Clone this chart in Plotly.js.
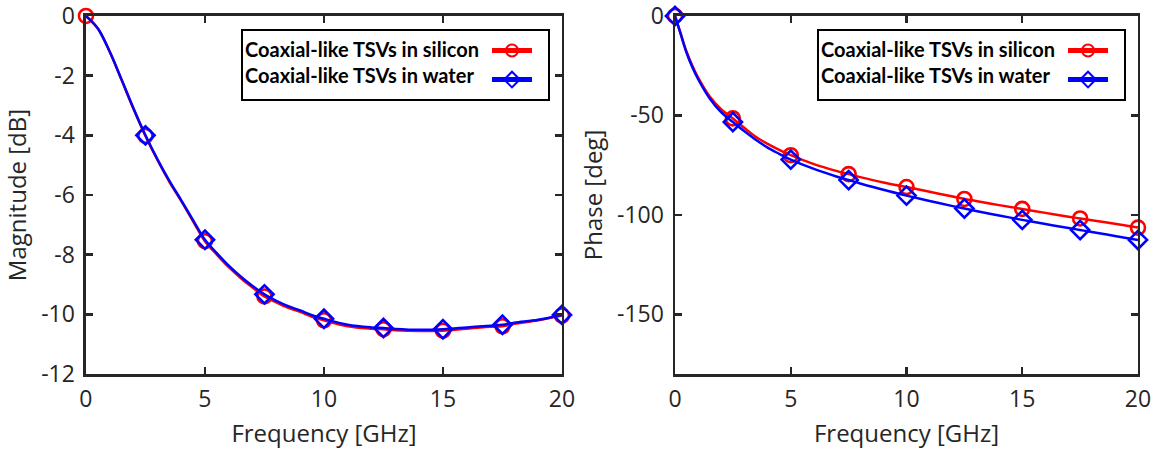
<!DOCTYPE html>
<html><head><meta charset="utf-8">
<script src="https://cdn.plot.ly/plotly-3.0.1.min.js"></script>
<style>html,body{margin:0;padding:0;background:#fff}#chart{width:1163px;height:454px}</style>
</head><body><div id="chart"></div>
<script>
// ---- data ----
const seriesNames = ['Coaxial-like TSVs in silicon', 'Coaxial-like TSVs in water'];
const markerFreqs = [0, 2.5, 5, 7.5, 10, 12.5, 15, 17.5, 20];
const waterMagMarkerFreqs = [2.5, 5, 7.5, 10, 12.5, 15, 17.5, 20];

const freqMag = [0, 0.5, 1, 1.5, 2, 2.5, 3, 3.5, 4, 4.5, 5, 5.5, 6, 6.5, 7, 7.5, 8, 8.5, 9, 9.5, 10, 11, 12, 12.5, 13, 14, 15, 16, 17, 17.5, 18, 19, 20];
const magSilicon = [0, -0.42, -1.2, -2.15, -3.12, -4.02, -4.82, -5.55, -6.2, -6.88, -7.55, -8.0, -8.42, -8.78, -9.1, -9.4, -9.6, -9.78, -9.92, -10.08, -10.2, -10.4, -10.48, -10.5, -10.53, -10.56, -10.55, -10.48, -10.42, -10.4, -10.32, -10.2, -10.04];
const magWater   = [0, -0.42, -1.2, -2.14, -3.1, -4.0, -4.8, -5.52, -6.17, -6.84, -7.5, -7.95, -8.37, -8.73, -9.05, -9.33, -9.55, -9.73, -9.87, -10.03, -10.15, -10.35, -10.44, -10.46, -10.49, -10.52, -10.5, -10.44, -10.38, -10.35, -10.28, -10.18, -10.02];

const freqPhase = [0, 0.25, 0.5, 0.75, 1, 1.5, 2, 2.5, 3, 3.5, 4, 4.5, 5, 6, 7, 7.5, 8, 9, 10, 11, 12, 12.5, 13, 14, 15, 16, 17, 17.5, 18, 19, 20];
const phaseSilicon = [0, -9, -18, -25, -31, -40.5, -47, -51.5, -56.3, -60.8, -64.3, -67.3, -70, -74.5, -78, -79.5, -81, -83.7, -86, -88.4, -90.8, -92, -93, -95.1, -97, -99, -100.9, -101.8, -102.7, -104.5, -106.4];
const phaseWater   = [0, -9.3, -18.5, -25.8, -31.8, -41.5, -48.5, -53.3, -58, -62.3, -66.2, -69.3, -72.2, -76.9, -80.8, -82.5, -84.2, -87.4, -90.3, -93, -95.6, -96.8, -98, -100.3, -102.5, -104.6, -106.6, -107.6, -108.6, -110.6, -112.6];

const xTickVals = [0, 5, 10, 15, 20];
const xTickText = ['0', '5', '10', '15', '20'];
const magTickVals = [0, -2, -4, -6, -8, -10, -12];
const magTickText = ['0', '-2', '-4', '-6', '-8', '-10', '-12'];
const phaseTickVals = [0, -50, -100, -150];
const phaseTickText = ['0', '-50', '-100', '-150'];

// ---- styling ----
const RED = '#FF0000', BLUE = '#0000FF', INK = '#262626';
const MS = 14;
const sizes = (xs, marks) => xs.map(f => marks.includes(f) ? MS : 0);

function series(x, y, color, symbol, marks, xa, ya, legend) {
  return {
    type: 'scatter', mode: 'lines+markers', x: x, y: y, name: ' ',
    xaxis: xa, yaxis: ya, legend: legend, cliponaxis: false,
    line: {color: color, width: 2.5, shape: 'spline', smoothing: 1},
    marker: {symbol: symbol, size: sizes(x, marks), opacity: 1, color: color, line: {color: color, width: 2.6}},
    hoverinfo: 'skip'
  };
}

const data = [
  series(freqMag, magSilicon, RED, 'circle-open', markerFreqs, 'x', 'y', 'legend'),
  series(freqMag, magWater, BLUE, 'diamond-open', waterMagMarkerFreqs, 'x', 'y', 'legend'),
  series(freqPhase, phaseSilicon, RED, 'circle-open', markerFreqs, 'x2', 'y2', 'legend2'),
  series(freqPhase, phaseWater, BLUE, 'diamond-open', markerFreqs, 'x2', 'y2', 'legend2')
];

const FONT = 'Open Sans, Liberation Sans, sans-serif';
const tickFont = {family: FONT, size: 23, color: INK};
const titleFont = {family: FONT, size: 24, color: INK};

function xAxis(domain, anchor) {
  return {
    domain: domain, anchor: anchor, range: [0, 20], tickvals: xTickVals, ticktext: xTickText,
    ticks: 'inside', ticklen: 7, tickwidth: 2.5, tickcolor: INK,
    showline: true, linecolor: INK, linewidth: 2.5, mirror: 'ticks',
    showgrid: false, zeroline: false, tickfont: tickFont, ticklabelstandoff: 3,
    ticklabeloverflow: 'allow',
    title: {text: 'Frequency [GHz]', font: titleFont, standoff: 12}
  };
}
function yAxis(domain, anchor, range, tv, tt, title) {
  return {
    domain: domain, anchor: anchor, range: range, tickvals: tv, ticktext: tt,
    ticks: 'inside', ticklen: 7, tickwidth: 2.5, tickcolor: INK,
    showline: true, linecolor: INK, linewidth: 2.5, mirror: 'ticks',
    showgrid: false, zeroline: false, tickfont: tickFont, ticklabelstandoff: 4,
    ticklabeloverflow: 'allow',
    title: {text: title, font: titleFont, standoff: 8}
  };
}

const legendTitle = seriesNames[0] + '<br>' + seriesNames[1];
function legendCfg(xRight) {
  return {
    x: xRight, xanchor: 'right', y: 0.936, yanchor: 'top',
    bgcolor: '#FFFFFF', bordercolor: '#000000', borderwidth: 2,
    font: {size: 20, color: '#000'}, itemsizing: 'constant', itemwidth: 40,
    traceorder: 'normal',
    title: {text: legendTitle, side: 'left', font: {family: 'Lato, sans-serif', size: 20, weight: 'bold', color: '#000'}}
  };
}

const yDom = [0.1762, 0.9648];
const layout = {
  width: 1163, height: 454, margin: {l: 0, r: 0, t: 0, b: 0},
  paper_bgcolor: '#FFFFFF', plot_bgcolor: '#FFFFFF', showlegend: true,
  xaxis: xAxis([0.0739, 0.4832], 'y'),
  yaxis: yAxis(yDom, 'x', [-12, 0], magTickVals, magTickText, 'Magnitude [dB]'),
  xaxis2: xAxis([0.5804, 0.9785], 'y2'),
  yaxis2: yAxis(yDom, 'x2', [-180, 0], phaseTickVals, phaseTickText, 'Phase [deg]'),
  legend: legendCfg(0.4729),
  legend2: legendCfg(0.9682)
};

Plotly.newPlot('chart', data, layout, {staticPlot: true, displayModeBar: false});
</script>
</body></html>
